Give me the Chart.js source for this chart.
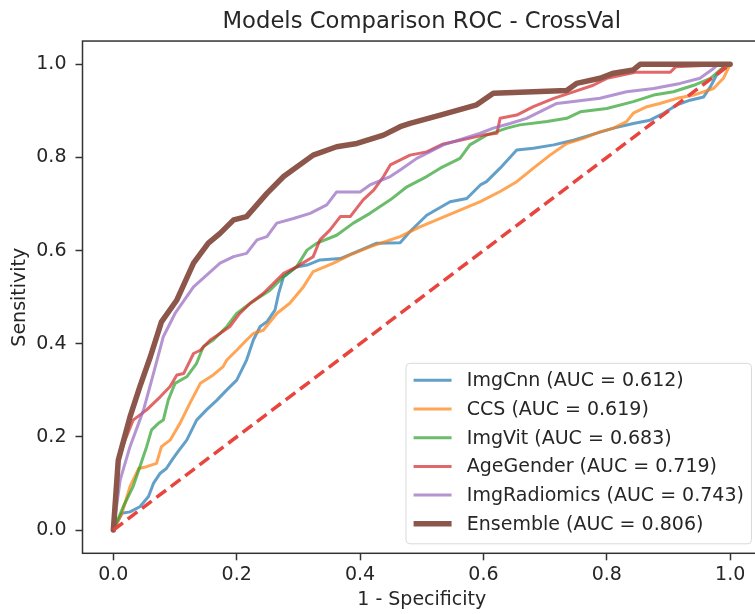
<!DOCTYPE html>
<html>
<head>
<meta charset="utf-8">
<script src="https://cdn.jsdelivr.net/npm/chart.js@4/dist/chart.umd.min.js"></script>
<style>
html,body{margin:0;padding:0;background:#ffffff;overflow:hidden;width:755px;height:614px}
canvas{display:block}
</style>
</head>
<body>
<canvas id="c" width="770" height="614"></canvas>
<script>
// ---------------- data ----------------
const seriesNames = ['ImgCnn', 'CCS', 'ImgVit', 'AgeGender', 'ImgRadiomics', 'Ensemble'];
const aucValues = [0.612, 0.619, 0.683, 0.719, 0.743, 0.806];

const imgCnnRoc = [[0,0],[0.014,0.036],[0.027,0.039],[0.043,0.05],[0.057,0.072],[0.065,0.1],[0.076,0.122],[0.086,0.132],[0.095,0.15],[0.103,0.165],[0.119,0.193],[0.135,0.236],[0.151,0.258],[0.168,0.279],[0.184,0.301],[0.2,0.322],[0.216,0.365],[0.227,0.408],[0.238,0.437],[0.249,0.447],[0.262,0.472],[0.268,0.508],[0.276,0.544],[0.297,0.565],[0.314,0.569],[0.335,0.58],[0.368,0.583],[0.395,0.598],[0.427,0.616],[0.465,0.617],[0.481,0.641],[0.508,0.676],[0.546,0.705],[0.573,0.712],[0.595,0.741],[0.605,0.748],[0.627,0.777],[0.654,0.816],[0.681,0.82],[0.714,0.827],[0.746,0.837],[0.773,0.848],[0.811,0.863],[0.843,0.873],[0.87,0.88],[0.892,0.895],[0.914,0.913],[0.935,0.923],[0.957,0.93],[0.968,0.952],[0.978,0.977],[0.99,0.995],[1,1]];

const ccsRoc = [[0,0],[0.014,0.036],[0.027,0.093],[0.041,0.132],[0.054,0.136],[0.07,0.143],[0.078,0.179],[0.092,0.193],[0.108,0.229],[0.124,0.272],[0.141,0.315],[0.162,0.333],[0.178,0.351],[0.184,0.365],[0.2,0.386],[0.216,0.408],[0.227,0.422],[0.243,0.429],[0.265,0.465],[0.286,0.487],[0.308,0.522],[0.324,0.555],[0.357,0.573],[0.384,0.591],[0.416,0.608],[0.449,0.623],[0.465,0.63],[0.497,0.651],[0.53,0.669],[0.562,0.687],[0.595,0.705],[0.627,0.727],[0.654,0.748],[0.681,0.777],[0.708,0.805],[0.735,0.83],[0.762,0.841],[0.789,0.855],[0.811,0.863],[0.832,0.877],[0.843,0.895],[0.865,0.909],[0.886,0.916],[0.914,0.927],[0.941,0.934],[0.973,0.948],[0.989,0.97],[1,1]];

const imgVitRoc = [[0,0],[0.016,0.05],[0.032,0.093],[0.043,0.136],[0.054,0.179],[0.062,0.215],[0.073,0.229],[0.081,0.236],[0.089,0.279],[0.1,0.315],[0.119,0.329],[0.135,0.358],[0.146,0.394],[0.162,0.408],[0.184,0.437],[0.2,0.465],[0.222,0.487],[0.254,0.515],[0.276,0.544],[0.297,0.565],[0.314,0.601],[0.33,0.616],[0.362,0.633],[0.389,0.659],[0.416,0.68],[0.449,0.709],[0.476,0.737],[0.508,0.759],[0.53,0.777],[0.562,0.798],[0.578,0.827],[0.605,0.848],[0.638,0.863],[0.659,0.87],[0.703,0.877],[0.735,0.884],[0.757,0.898],[0.8,0.905],[0.843,0.92],[0.876,0.934],[0.908,0.941],[0.941,0.955],[0.968,0.97],[0.984,0.988],[1,1]];

const ageGenderRoc = [[0,0],[0.008,0.15],[0.019,0.193],[0.032,0.236],[0.054,0.258],[0.076,0.286],[0.092,0.308],[0.103,0.333],[0.114,0.336],[0.13,0.379],[0.141,0.386],[0.157,0.408],[0.173,0.422],[0.189,0.437],[0.205,0.465],[0.222,0.487],[0.243,0.508],[0.276,0.551],[0.297,0.565],[0.324,0.587],[0.335,0.623],[0.351,0.644],[0.368,0.673],[0.384,0.673],[0.405,0.709],[0.422,0.73],[0.438,0.759],[0.449,0.784],[0.481,0.805],[0.508,0.812],[0.535,0.829],[0.6,0.848],[0.622,0.852],[0.627,0.884],[0.654,0.891],[0.681,0.909],[0.714,0.927],[0.746,0.941],[0.778,0.955],[0.8,0.97],[0.846,0.983],[0.903,0.983],[0.912,0.995],[1,1]];

const imgRadiomicsRoc = [[0,0],[0.011,0.107],[0.027,0.179],[0.049,0.258],[0.065,0.336],[0.081,0.415],[0.1,0.465],[0.13,0.522],[0.173,0.573],[0.195,0.587],[0.216,0.594],[0.233,0.623],[0.249,0.63],[0.265,0.659],[0.292,0.669],[0.319,0.68],[0.346,0.698],[0.362,0.726],[0.4,0.726],[0.416,0.741],[0.449,0.759],[0.465,0.773],[0.492,0.798],[0.535,0.827],[0.595,0.852],[0.616,0.863],[0.643,0.873],[0.67,0.884],[0.719,0.916],[0.746,0.92],[0.789,0.927],[0.832,0.941],[0.876,0.948],[0.919,0.959],[0.951,0.97],[0.973,0.991],[0.98,1],[1,1]];

const ensembleRoc = [[0,0],[0.008,0.15],[0.027,0.243],[0.043,0.308],[0.06,0.372],[0.078,0.447],[0.103,0.494],[0.13,0.573],[0.154,0.616],[0.173,0.637],[0.195,0.666],[0.216,0.673],[0.249,0.723],[0.276,0.759],[0.324,0.805],[0.362,0.823],[0.395,0.83],[0.438,0.848],[0.465,0.866],[0.481,0.873],[0.53,0.891],[0.589,0.913],[0.616,0.938],[0.681,0.941],[0.735,0.944],[0.751,0.959],[0.789,0.97],[0.811,0.981],[0.843,0.988],[0.854,1],[1,1]];

const chanceLine = [[0,0],[1,1]];
const xTickValues = [0, 0.2, 0.4, 0.6, 0.8, 1.0];
const yTickValues = [0, 0.2, 0.4, 0.6, 0.8, 1.0];

// ---------------- styles ----------------
const rocSeries = [imgCnnRoc, ccsRoc, imgVitRoc, ageGenderRoc, imgRadiomicsRoc, ensembleRoc];
const seriesColors = ['rgba(31,119,180,0.7)','rgba(255,127,14,0.7)','rgba(44,160,44,0.7)','rgba(214,39,40,0.7)','rgba(148,103,189,0.7)','rgba(140,86,75,1)'];
const seriesWidths = [3, 3, 3, 3, 3, 5.5];
const FONT = "'DejaVu Sans', sans-serif";
const TEXT = '#262626';
Chart.defaults.font.family = FONT;
Chart.defaults.color = TEXT;

const datasets = rocSeries.map((pts, i) => ({
  label: `${seriesNames[i]} (AUC = ${aucValues[i].toFixed(3)})`,
  data: pts.map(([x, y]) => ({x, y})),
  borderColor: seriesColors[i],
  backgroundColor: seriesColors[i],
  borderWidth: seriesWidths[i],
  order: 6 - i,
  showLine: true, pointRadius: 0, tension: 0, fill: false,
  borderJoinStyle: 'round', borderCapStyle: 'round'
}));
datasets.push({
  label: 'Chance',
  data: chanceLine.map(([x, y]) => ({x, y})),
  borderColor: '#e9453f',
  borderWidth: 3.5,
  borderDash: [12, 6],
  order: 0,
  showLine: true, pointRadius: 0, tension: 0, fill: false
});

// frame (spines)
const framePlugin = {
  id: 'frame',
  afterDatasetsDraw(chart) {
    const {ctx, chartArea: a} = chart;
    ctx.save();
    ctx.strokeStyle = '#333333';
    ctx.lineWidth = 1.5;
    ctx.strokeRect(a.left, a.top, a.right - a.left, a.bottom - a.top);
    ctx.restore();
  }
};

// matplotlib style legend at lower right
const legendPlugin = {
  id: 'mplLegend',
  afterDraw(chart) {
    const {ctx, chartArea: a} = chart;
    const fs = 19;
    const items = chart.data.datasets.slice(0, seriesNames.length);
    ctx.save();
    ctx.font = `${fs}px ${FONT}`;
    let maxW = 0;
    items.forEach(d => { maxW = Math.max(maxW, ctx.measureText(d.label).width); });
    const pad = 0.4 * fs, handleLen = 2 * fs, handleGap = 0.8 * fs;
    const rowH = 28.7;
    const w = 2 * pad + handleLen + handleGap + maxW;
    const h = 180.5;
    const right = a.right - 9.5, bottom = a.bottom - 9.5;
    const left = right - w, top = bottom - h;
    ctx.beginPath();
    ctx.roundRect(left, top, w, h, 4);
    ctx.fillStyle = 'rgba(255,255,255,0.85)';
    ctx.fill();
    ctx.strokeStyle = '#d9d9d9';
    ctx.lineWidth = 1;
    ctx.stroke();
    items.forEach((d, i) => {
      const y = top + 17 + i * rowH;
      ctx.beginPath();
      ctx.moveTo(left + pad, y);
      ctx.lineTo(left + pad + handleLen, y);
      ctx.strokeStyle = d.borderColor;
      ctx.lineWidth = d.borderWidth;
      ctx.stroke();
      ctx.fillStyle = TEXT;
      ctx.textBaseline = 'middle';
      ctx.textAlign = 'left';
      ctx.fillText(d.label, left + pad + handleLen + handleGap, y + 1);
    });
    ctx.restore();
  }
};

new Chart(document.getElementById('c'), {
  type: 'scatter',
  data: { datasets },
  options: {
    responsive: false,
    animation: false,
    layout: { padding: { left: 0, right: 9, top: 0, bottom: 0 } },
    plugins: {
      legend: { display: false },
      tooltip: { enabled: false },
      title: {
        display: true,
        text: 'Models Comparison ROC - CrossVal',
        color: TEXT,
        fullSize: false,
        font: { size: 22.7, weight: 'normal', family: FONT },
        padding: { top: 8.9, bottom: 4.9 }
      }
    },
    scales: {
      x: {
        type: 'linear', min: -0.05, max: 1.05,
        afterBuildTicks: s => { s.ticks = xTickValues.map(v => ({value: v})); },
        afterFit: s => { s.height = 60.7; },
        border: { display: false },
        grid: { display: true, drawOnChartArea: false, drawTicks: true, tickLength: 7, tickWidth: 1.5, tickColor: '#333333' },
        ticks: { font: { size: 19 }, padding: 3.3, maxRotation: 0, autoSkip: false, color: TEXT,
                 callback: v => Number(v).toFixed(1) },
        title: { display: true, text: '1 - Specificity', color: TEXT, font: { size: 19 }, padding: { top: 0, bottom: 2.5 } }
      },
      y: {
        type: 'linear', min: -0.05, max: 1.05,
        afterBuildTicks: s => { s.ticks = yTickValues.map(v => ({value: v})); },
        afterFit: s => { s.width = 82.5; },
        border: { display: false },
        grid: { display: true, drawOnChartArea: false, drawTicks: true, tickLength: 7, tickWidth: 1.5, tickColor: '#333333' },
        ticks: { font: { size: 19 }, padding: 9, autoSkip: false, color: TEXT,
                 callback: v => Number(v).toFixed(1) },
        title: { display: true, text: 'Sensitivity', color: TEXT, font: { size: 19 }, padding: { top: 8.6, bottom: 0 } }
      }
    }
  },
  plugins: [framePlugin, legendPlugin]
});
</script>
</body>
</html>
